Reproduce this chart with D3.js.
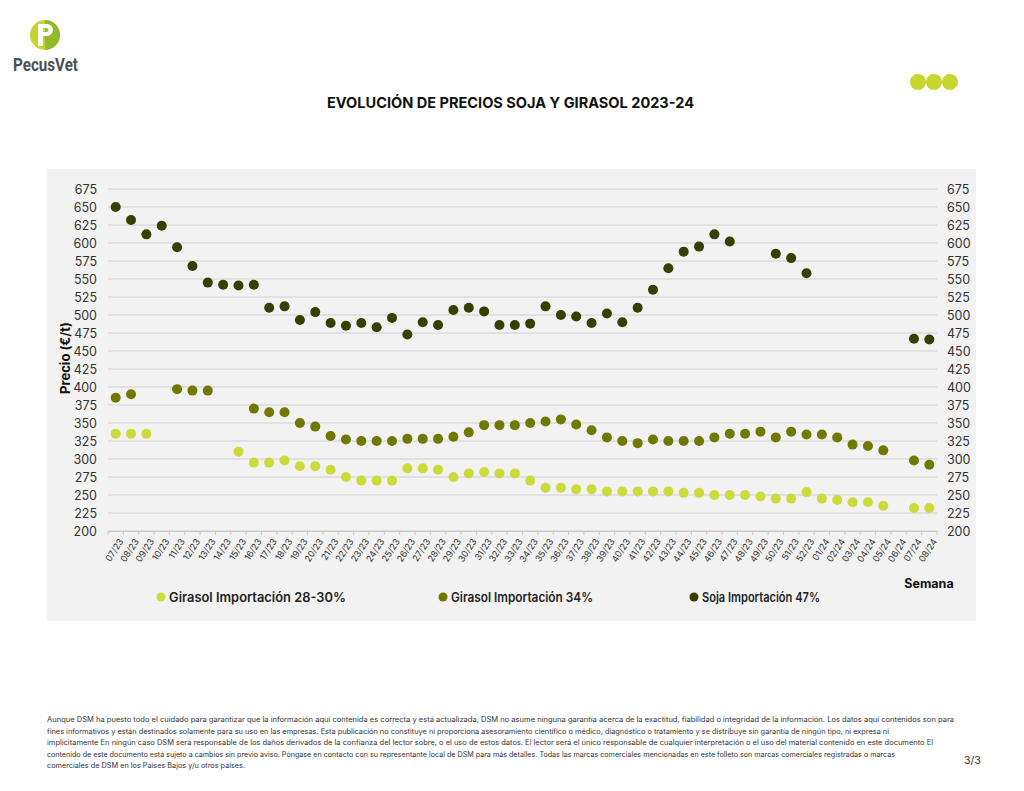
<!DOCTYPE html>
<html>
<head>
<meta charset="utf-8">
<script src="https://cdn.jsdelivr.net/npm/d3@7"></script>
<style>
  body { margin: 0; background: #fff; font-family: Inter, "Open Sans", sans-serif; }
</style>
</head>
<body>
<div id="chart"></div>
<script>
const width = 1024;
const height = 791;

// weeks
const weeks = ["07/23","08/23","09/23","10/23","11/23","12/23","13/23","14/23","15/23","16/23",
  "17/23","18/23","19/23","20/23","21/23","22/23","23/23","24/23","25/23","26/23","27/23","28/23",
  "29/23","30/23","31/23","32/23","33/23","34/23","35/23","36/23","37/23","38/23","39/23","40/23",
  "41/23","42/23","43/23","44/23","45/23","46/23","47/23","48/23","49/23","50/23","51/23","52/23",
  "01/24","02/24","03/24","04/24","05/24","06/24","07/24","08/24"];

// null = no price that week
const girasol2830 = [335,335,335,null,null,null,null,null,310,295,
  295,298,290,290,285,275,270,270,270,287,287,285,
  275,280,282,280,280,270,260,260,258,258,255,255,
  255,255,255,253,253,250,250,250,248,245,245,254,
  245,243,240,240,235,null,232,232];

const girasol34 = [385,390,null,null,397,395,395,null,null,370,
  365,365,350,345,332,327,325,325,325,328,328,328,
  331,337,347,347,347,350,352,355,348,340,330,325,
  322,327,325,325,325,330,335,335,338,330,338,334,
  334,330,320,318,312,null,298,292];

const soja47 = [650,632,612,624,594,568,545,542,541,542,
  510,512,493,504,489,485,489,483,496,473,490,486,
  507,510,505,486,486,488,512,500,498,489,502,490,
  510,535,565,588,595,612,602,null,null,585,579,558,
  null,null,null,null,null,null,467,466];

const yTicks = d3.range(200, 676, 25);

const series = [
  {name: "Girasol Importación 28-30%", values: girasol2830, color: "#cbdb3a"},
  {name: "Girasol Importación 34%", values: girasol34, color: "#707800"},
  {name: "Soja Importación 47%", values: soja47, color: "#363f00"}
];

const svg = d3.select('#chart').append('svg')
  .attr('width', width)
  .attr('height', height);

// logo
const logo = svg.append('g');
logo.append('circle').attr('cx', 45).attr('cy', 35).attr('r', 15).attr('fill', '#c5d52f');
logo.append('path')
  .attr('d', 'M45,20 A15,15 0 0,1 45,50 Z')
  .attr('fill', '#8fbb2c');
logo.append('rect').attr('x', 38).attr('y', 24).attr('width', 5).attr('height', 22).attr('fill', '#fff');
logo.append('path')
  .attr('d', 'M40,24 L47,24 A6,6 0 0,1 47,36 L40,36 L40,32 L46.5,32 A2,2 0 0,0 46.5,28 L40,28 Z')
  .attr('fill', '#fff');
logo.append('text')
  .attr('x', 13).attr('y', 71)
  .attr('textLength', 65)
  .attr('lengthAdjust', 'spacingAndGlyphs')
  .attr('font-family', 'Roboto, sans-serif')
  .attr('font-weight', 700)
  .attr('font-size', 18)
  .attr('fill', '#4b5056')
  .text('PecusVet');

// three dots top right
svg.selectAll('.dot3')
  .data([918, 934, 950])
  .enter()
  .append('circle')
  .attr('cx', d => d).attr('cy', 82).attr('r', 8)
  .attr('fill', '#c8d52f');

// title
svg.append('text')
  .attr('x', 327).attr('y', 108)
  .attr('textLength', 367)
  .attr('lengthAdjust', 'spacingAndGlyphs')
  .attr('font-weight', 700)
  .attr('font-size', 14.5)
  .attr('fill', '#111')
  .text('EVOLUCIÓN DE PRECIOS SOJA Y GIRASOL 2023-24');

// panel
svg.append('rect')
  .attr('x', 47).attr('y', 169)
  .attr('width', 929).attr('height', 452)
  .attr('fill', '#f2f2f2');

const x = d3.scaleBand()
  .domain(weeks)
  .range([108, 937]);

const y = d3.scaleLinear()
  .domain([200, 675])
  .range([531, 189]);

// gridlines
svg.selectAll('.grid')
  .data(yTicks)
  .enter()
  .append('line')
  .attr('x1', 108).attr('x2', 937)
  .attr('y1', d => y(d)).attr('y2', d => y(d))
  .attr('stroke', '#d0d0d0')
  .attr('stroke-width', 1.2);

// left and right axes
const yLeft = svg.append('g')
  .attr('transform', 'translate(108,0)')
  .call(d3.axisLeft(y).tickValues(yTicks).tickSize(0).tickPadding(11));
const yRight = svg.append('g')
  .attr('transform', 'translate(937,0)')
  .call(d3.axisRight(y).tickValues(yTicks).tickSize(0).tickPadding(10));
[yLeft, yRight].forEach(g => {
  g.select('.domain').remove();
  g.selectAll('text').attr('font-size', 12.5).attr('fill', '#333').attr('font-family', 'Inter, sans-serif');
});

// x axis
const xAxis = svg.append('g')
  .attr('transform', 'translate(0,531)')
  .call(d3.axisBottom(x).tickSize(0));
xAxis.select('.domain').attr('stroke', '#c8c8c8');
xAxis.selectAll('text')
  .attr('font-size', 9)
  .attr('fill', '#333')
  .attr('font-family', 'Inter, sans-serif')
  .attr('text-anchor', 'end')
  .attr('transform', 'translate(3,7) rotate(-57)')
  .attr('dy', '0.35em');
// tick marks at band edges
svg.selectAll('.xtick')
  .data(weeks.concat(['end']))
  .enter()
  .append('line')
  .attr('x1', (d, i) => 108 + i * x.step())
  .attr('x2', (d, i) => 108 + i * x.step())
  .attr('y1', 531).attr('y2', 535)
  .attr('stroke', '#c8c8c8');

// y label
svg.append('text')
  .attr('transform', 'translate(70,358) rotate(-90)')
  .attr('text-anchor', 'middle')
  .attr('font-weight', 700)
  .attr('font-size', 13)
  .attr('fill', '#111')
  .text('Precio (€/t)');

// points
series.forEach(s => {
  svg.append('g')
    .selectAll('circle')
    .data(s.values.map((v, i) => ({week: weeks[i], v: v})).filter(d => d.v !== null))
    .enter()
    .append('circle')
    .attr('cx', d => x(d.week) + x.bandwidth() / 2)
    .attr('cy', d => y(d.v))
    .attr('r', 5)
    .attr('fill', s.color);
});

// Semana
svg.append('text')
  .attr('x', 929).attr('y', 588)
  .attr('text-anchor', 'middle')
  .attr('font-weight', 700)
  .attr('font-size', 12.5)
  .attr('fill', '#111')
  .text('Semana');

// legend
const legendX = [161, 443, 694];
const legendLen = [177, 142, 118];
const leg = svg.selectAll('.legend')
  .data(series)
  .enter()
  .append('g')
  .attr('transform', (d, i) => 'translate(' + legendX[i] + ',597)');
leg.append('circle').attr('r', 4.5).attr('fill', d => d.color);
leg.append('text')
  .attr('x', 8).attr('dy', '0.35em')
  .attr('font-weight', 600)
  .attr('font-size', 13)
  .attr('fill', '#222')
  .attr('textLength', (d, i) => legendLen[i])
  .attr('lengthAdjust', 'spacingAndGlyphs')
  .text(d => d.name);

// footer
const footer = [
  "Aunque DSM ha puesto todo el cuidado para garantizar que la información aquí contenida es correcta y está actualizada, DSM no asume ninguna garantía acerca de la exactitud, fiabilidad o integridad de la información. Los datos aquí contenidos son para",
  "fines informativos y están destinados solamente para su uso en las empresas. Esta publicación no constituye ni proporciona asesoramiento científico o médico, diagnóstico o tratamiento y se distribuye sin garantía de ningún tipo, ni expresa ni",
  "implícitamente En ningún caso DSM será responsable de los daños derivados de la confianza del lector sobre, o el uso de estos datos. El lector será el único responsable de cualquier interpretación o el uso del material contenido en este documento El",
  "contenido de este documento está sujeto a cambios sin previo aviso. Póngase en contacto con su representante local de DSM para más detalles. Todas las marcas comerciales mencionadas en este folleto son marcas comerciales registradas o marcas",
  "comerciales de DSM en los Países Bajos y/u otros países."
];
const footerLen = [907, 842, 886, 848, 0];
svg.selectAll('.foot')
  .data(footer)
  .enter()
  .append('text')
  .attr('x', 47)
  .attr('y', (d, i) => 722 + i * 11.5)
  .attr('font-size', 7.3)
  .attr('fill', '#333')
  .each(function(d, i) {
    if (footerLen[i]) d3.select(this).attr('textLength', footerLen[i]).attr('lengthAdjust', 'spacingAndGlyphs');
  })
  .text(d => d);

svg.append('text')
  .attr('x', 964).attr('y', 764)
  .attr('font-size', 10.5)
  .attr('fill', '#333')
  .text('3/3');
</script>
</body>
</html>
